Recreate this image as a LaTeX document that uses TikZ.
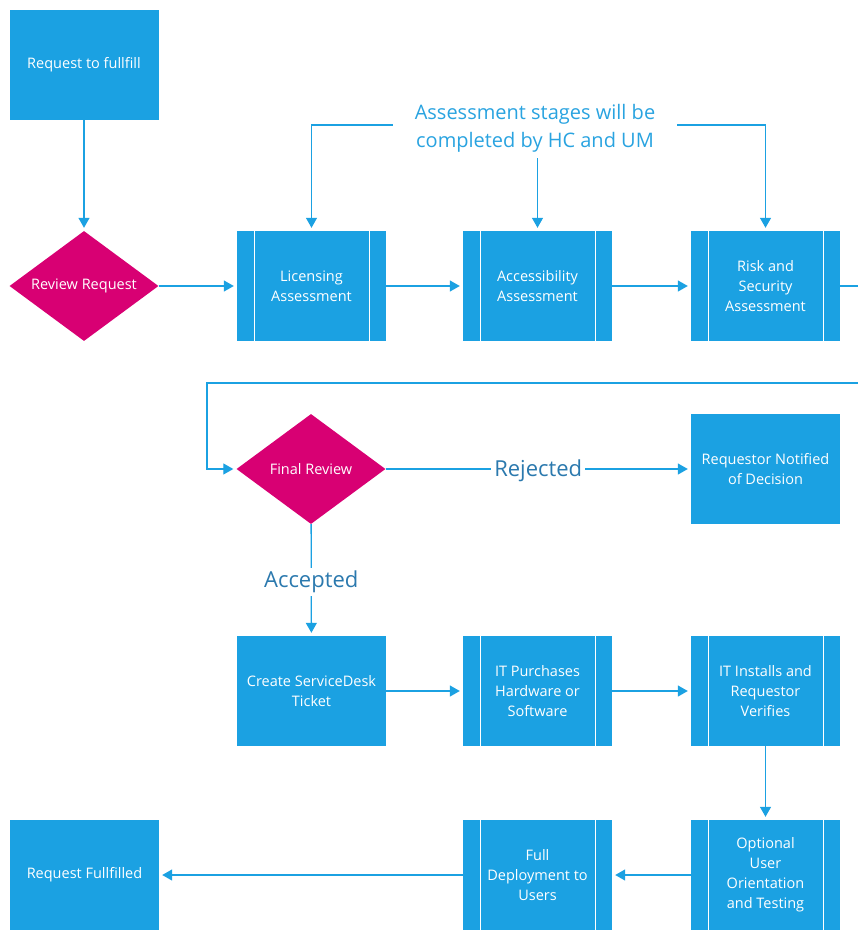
\documentclass[tikz,border=0pt]{standalone}
\usepackage{fontspec}
\setmainfont{Open Sans}
\usetikzlibrary{positioning,arrows.meta,shapes.geometric}
\definecolor{boxblue}{HTML}{1BA1E2}
\definecolor{decmag}{HTML}{D80073}
\definecolor{noteblue}{HTML}{29A3E0}
\definecolor{labblue}{HTML}{2B79AE}
\tikzset{>={Triangle[width=11pt,length=10pt]}}

\begin{document}
\begin{tikzpicture}[x=1pt,y=-1pt]
    \tikzset{
    task/.style={rectangle, fill=boxblue, minimum width=149pt, minimum height=110pt, inner sep=0pt,
                 align=center, text=white, font=\fontsize{14.5}{20}\selectfont},
    subtask/.style={task, path picture={
        \draw [white, line width=1pt] ([xshift=17pt]path picture bounding box.north west) -- ([xshift=17pt]path picture bounding box.south west);
        \draw [white, line width=1pt] ([xshift=-17pt]path picture bounding box.north east) -- ([xshift=-17pt]path picture bounding box.south east);
        }},
    decision/.style={diamond, aspect=1.5, fill=decmag, minimum width=149pt, minimum height=110pt, inner sep=0pt,
                     text=white, font=\fontsize{14.5}{16}\selectfont},
    flow/.style={draw=boxblue, line width=1.3pt, ->, shorten >=3pt},
    lab/.style={fill=white, text=labblue, inner xsep=3pt, yshift=-2pt, font=\fontsize{22}{24}\selectfont},
    note/.style={text=noteblue, align=center, inner xsep=22pt, inner ysep=6pt, font=\fontsize{20}{28}\selectfont},
    }
    \useasboundingbox (0,0) rectangle (858,931);

    % First row.
    \node [task]     (req)    at (84,65)    {Request to fullfill};
    \node [decision] (rev)    at (84,286)   {Review Request};
    \node [subtask]  (lic)    at (311.5,286) {Licensing\\Assessment};
    \node [subtask]  (acc)    at (537.5,286) {Accessibility\\Assessment};
    \node [subtask]  (risk)   at (765.5,286) {Risk and\\Security\\Assessment};
    \node [note]     (note)   at (535,128)  {Assessment stages will be\\completed by HC and UM};

    % Second row.
    \node [decision] (final)  at (311,469)  {Final Review};
    \node [task]     (notif)  at (765.5,469) {Requestor Notified\\of Decision};

    % Third row.
    \node [task]     (ticket) at (311.5,691) {Create ServiceDesk\\Ticket};
    \node [subtask]  (purch)  at (537.5,691) {IT Purchases\\Hardware or\\Software};
    \node [subtask]  (inst)   at (765.5,691) {IT Installs and\\Requestor\\Verifies};

    % Last row.
    \node [subtask]  (orient) at (765.5,875) {Optional\\User\\Orientation\\and Testing};
    \node [subtask]  (deploy) at (537.5,875) {Full\\Deployment to\\Users};
    \node [task]     (done)   at (84.5,875) {Request Fullfilled};

    % Loop back from the right edge.
    \coordinate (riskout)    at (858,286);
    \coordinate (loopin)     at (858,383);
    \coordinate (loopcorner) at (207,383);

    % Connections.
    \draw [flow] (req) -- (rev);
    \draw [flow] (rev) -- (lic);
    \draw [flow] (lic) -- (acc);
    \draw [flow] (acc) -- (risk);
    \draw [flow, -, shorten >=0pt] (risk) -- (riskout);
    \draw [flow] ([yshift=3pt]note.west) -| (lic.north);
    \draw [flow] (note.south -| acc.north) -- (acc.north);
    \draw [flow] ([yshift=3pt]note.east) -| (risk.north);
    \draw [flow] (loopin) -- (loopcorner) |- (final);
    \draw [flow] (final) -- node [lab] {Rejected} (notif);
    \draw [flow] (final) -- node [lab] {Accepted} (ticket);
    \draw [flow] (ticket) -- (purch);
    \draw [flow] (purch) -- (inst);
    \draw [flow] (inst) -- (orient);
    \draw [flow] (orient) -- (deploy);
    \draw [flow] (deploy) -- (done);
\end{tikzpicture}
\end{document}
